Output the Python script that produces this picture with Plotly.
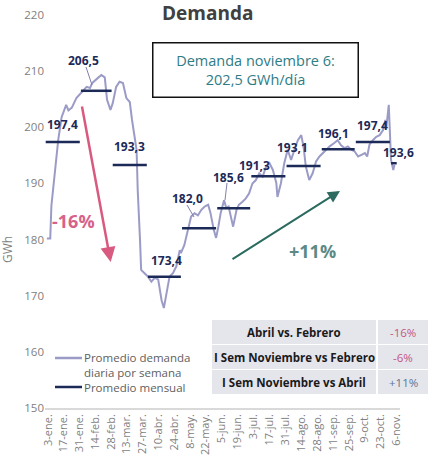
import plotly.graph_objects as go

# weekly-average daily demand (GWh)
dates = [
    "2022-01-02", "2022-01-05", "2022-01-06", "2022-01-09", "2022-01-12", "2022-01-15", "2022-01-19", "2022-01-21", "2022-01-24", "2022-01-28",
    "2022-02-01", "2022-02-06", "2022-02-09", "2022-02-11", "2022-02-16", "2022-02-19", "2022-02-22", "2022-02-24", "2022-02-27",
    "2022-03-01", "2022-03-04", "2022-03-07", "2022-03-10", "2022-03-13", "2022-03-16", "2022-03-18", "2022-03-22", "2022-03-23", "2022-03-25", "2022-03-26", "2022-03-29",
    "2022-04-01", "2022-04-04", "2022-04-07", "2022-04-10", "2022-04-13", "2022-04-15", "2022-04-17", "2022-04-20", "2022-04-23", "2022-04-26", "2022-04-29", "2022-04-30",
    "2022-05-03", "2022-05-06", "2022-05-09", "2022-05-12", "2022-05-15", "2022-05-18", "2022-05-21", "2022-05-24", "2022-05-26", "2022-05-29", "2022-05-31",
    "2022-06-02", "2022-06-04", "2022-06-07", "2022-06-09", "2022-06-11", "2022-06-14", "2022-06-15", "2022-06-18", "2022-06-20", "2022-06-23", "2022-06-26", "2022-06-29",
    "2022-07-02", "2022-07-05", "2022-07-08", "2022-07-11", "2022-07-14", "2022-07-17", "2022-07-20", "2022-07-23", "2022-07-24", "2022-07-27", "2022-07-30",
    "2022-08-02", "2022-08-05", "2022-08-08", "2022-08-11", "2022-08-14", "2022-08-16", "2022-08-18", "2022-08-21", "2022-08-24", "2022-08-27", "2022-08-30",
    "2022-09-02", "2022-09-05", "2022-09-08", "2022-09-12", "2022-09-15", "2022-09-18", "2022-09-21", "2022-09-24", "2022-09-27", "2022-09-30",
    "2022-10-03", "2022-10-06", "2022-10-09", "2022-10-11", "2022-10-13", "2022-10-16", "2022-10-19", "2022-10-22", "2022-10-25", "2022-10-27", "2022-10-28", "2022-10-30", "2022-10-31",
    "2022-11-01", "2022-11-03", "2022-11-04",
]
demanda = [
    180.2, 180.2, 186.0, 191.9, 197.7, 201.8, 204.0, 203.0, 203.5, 205.2,
    206.1, 207.2, 207.0, 207.9, 208.8, 209.3, 208.9, 204.9, 203.1,
    204.3, 207.2, 208.1, 207.9, 205.2, 204.5, 201.3, 196.0, 188.8, 180.0, 174.6, 174.0,
    173.4, 172.5, 173.2, 172.9, 169.2, 167.8, 169.8, 173.4, 174.0, 175.2, 178.1, 177.6,
    179.0, 181.7, 184.1, 184.7, 184.3, 185.3, 185.9, 186.2, 184.8, 181.7, 180.3,
    182.3, 184.7, 187.0, 185.6, 185.9, 183.5, 182.3, 185.3, 186.2, 186.7, 187.3, 188.2,
    190.0, 190.6, 191.8, 191.2, 193.0, 193.6, 192.4, 190.1, 187.6, 190.0, 193.6,
    196.0, 194.2, 196.0, 197.7, 198.6, 196.5, 193.0, 190.6, 191.8, 193.9, 194.8,
    195.4, 196.0, 196.6, 197.2, 197.7, 196.8, 196.3, 196.6, 196.0, 195.7,
    194.8, 195.1, 195.4, 194.8, 196.9, 197.7, 198.3, 198.6, 199.5, 201.3, 200.2, 204.0, 198.9,
    194.2, 192.4, 193.3,
]

# monthly means
mes_inicio = ["2022-01-01", "2022-02-01", "2022-03-01", "2022-04-01", "2022-05-01", "2022-06-01",
              "2022-07-01", "2022-08-01", "2022-09-01", "2022-10-01", "2022-11-01"]
mes_fin = ["2022-01-31", "2022-02-28", "2022-03-31", "2022-04-30", "2022-05-31", "2022-06-30",
           "2022-07-31", "2022-08-31", "2022-09-30", "2022-10-31", "2022-11-06"]
mes_prom = [197.4, 206.5, 193.3, 173.4, 182.0, 185.6, 191.3, 193.1, 196.1, 197.4, 193.6]
mes_mid = ["2022-01-16", "2022-02-14", "2022-03-16", "2022-04-15", "2022-05-16", "2022-06-15",
           "2022-07-16", "2022-08-16", "2022-09-15", "2022-10-16", "2022-11-03"]
# label shifts (px)
lab_dx = [0, -12, 0, 3, -12, -5, -14, -11, -4, 0, 5]
lab_dy = [17, 30, 18, 16, 30, 31, 11, 19, 16, 16, 11]

tick_dates = ["2022-01-03", "2022-01-17", "2022-01-31", "2022-02-14", "2022-02-28", "2022-03-13",
              "2022-03-27", "2022-04-10", "2022-04-24", "2022-05-08", "2022-05-22", "2022-06-05",
              "2022-06-19", "2022-07-03", "2022-07-17", "2022-07-31", "2022-08-14", "2022-08-28",
              "2022-09-11", "2022-09-25", "2022-10-09", "2022-10-23", "2022-11-06"]
tick_text = ["3-ene.", "17-ene.", "31-ene.", "14-feb.", "28-feb.", "13-mar.", "27-mar.", "10-abr.",
             "24-abr.", "8-may.", "22-may.", "5-jun.", "19-jun.", "3-jul.", "17-jul.", "31-jul.",
             "14-ago.", "28-ago.", "11-sep.", "25-sep.", "9-oct.", "23-oct.", "6-nov."]

tabla_txt = ["Abril vs. Febrero", "I Sem Noviembre vs Febrero", "I Sem Noviembre vs Abril"]
tabla_val = ["-16%", "-6%", "+11%"]
tabla_col = ["#c4557f", "#c4557f", "#5d7394"]

FONT = "Open Sans"
LINE = "#9b9bc7"
NAVY = "#1c2a58"


def px(x):
    return (x - 45) / 355


def py(y):
    return (408 - y) / 393


def note(x, y, text, size, color, **kw):
    d = dict(x=px(x), y=py(y), xref="paper", yref="paper", text=text, showarrow=False,
             xanchor="center", yanchor="middle", font=dict(family=FONT, size=size, color=color))
    d.update(kw)
    return d


fig = go.Figure()
fig.add_trace(go.Scatter(x=dates, y=demanda, mode="lines", line=dict(color=LINE, width=2),
                         showlegend=False, hoverinfo="skip"))

seg_x, seg_y = [], []
for a, b, v in zip(mes_inicio, mes_fin, mes_prom):
    seg_x += [a, b, None]
    seg_y += [v, v, None]
fig.add_trace(go.Scatter(x=seg_x, y=seg_y, mode="lines", line=dict(color=NAVY, width=2.5),
                         showlegend=False, hoverinfo="skip"))

ann = []
for m, v, dx, dy in zip(mes_mid, mes_prom, lab_dx, lab_dy):
    ann.append(dict(x=m, y=v, xref="x", yref="y", text=f"<b>{v:.1f}</b>".replace(".", ","),
                    showarrow=False, xshift=dx, yshift=dy, xanchor="center", yanchor="middle",
                    font=dict(family=FONT, size=12, color=NAVY)))

ann += [
    note(207, 13, "<b>Demanda</b>", 19, "#404040"),
    note(255, 69.5, "Demanda noviembre 6:<br>202,5 GWh/día", 14.5, "#2e7c86",
         width=200, height=49, bordercolor="#111111", borderwidth=1.5, borderpad=2),
    dict(x=px(110.7), y=py(262), xref="paper", yref="paper", ax=-29, ay=-157, text="",
         showarrow=True, arrowhead=2, arrowsize=1.2, arrowwidth=2.5, arrowcolor="#d95a80"),
    dict(x=px(340), y=py(191), xref="paper", yref="paper", ax=-109, ay=69, text="",
         showarrow=True, arrowhead=2, arrowsize=1.2, arrowwidth=2, arrowcolor="#2b6b60"),
    note(73, 221, "<b>-16%</b>", 18, "#d6628a"),
    note(312, 251, "<b>+11%</b>", 18, "#5b8a86"),
    note(7, 250, "GWh", 12, "#7f7f7f", textangle=-90),
    note(83, 372, "Promedio demanda<br>diaria por semana<br>Promedio mensual", 11.5, "#606060",
         xanchor="left", align="left", borderpad=0),
]

shapes = [
    dict(type="line", xref="paper", yref="paper", x0=px(55), x1=px(82), y0=py(358), y1=py(358),
         line=dict(color=LINE, width=2.5)),
    dict(type="line", xref="paper", yref="paper", x0=px(55), x1=px(82), y0=py(387), y1=py(387),
         line=dict(color=NAVY, width=2.5)),
    # leader lines
    dict(type="line", xref="paper", yref="paper", x0=px(86), x1=px(92), y0=py(67), y1=py(85),
         line=dict(color="#8080b0", width=1)),
    dict(type="line", xref="paper", yref="paper", x0=px(187), x1=px(194), y0=py(205), y1=py(217),
         line=dict(color="#8080b0", width=1)),
    dict(type="line", xref="paper", yref="paper", x0=px(227), x1=px(225), y0=py(183), y1=py(200),
         line=dict(color="#8080b0", width=1)),
]

# comparison table
row_top = [320, 345, 370]
for i, (t, v, c) in enumerate(zip(tabla_txt, tabla_val, tabla_col)):
    y0, y1 = row_top[i], row_top[i] + 24
    shapes.append(dict(type="rect", xref="paper", yref="paper", x0=px(212), x1=px(376),
                       y0=py(y1), y1=py(y0), fillcolor="#e5e5ec", line=dict(width=0)))
    shapes.append(dict(type="rect", xref="paper", yref="paper", x0=px(378), x1=px(428),
                       y0=py(y1), y1=py(y0), fillcolor="#e5e5ec", line=dict(width=0)))
    ann.append(note(294, (y0 + y1) / 2, f"<b>{t}</b>", 11.5, "#1a1a1a"))
    ann.append(note(403, (y0 + y1) / 2, v, 11.5, c))

fig.update_layout(
    width=442, height=465,
    margin=dict(l=45, r=42, t=15, b=57, autoexpand=False),
    plot_bgcolor="white", paper_bgcolor="white",
    annotations=ann, shapes=shapes,
    xaxis=dict(type="date", range=["2021-12-31 09:00", "2022-11-08 21:30"], automargin=False,
               tickvals=tick_dates, ticktext=tick_text, tickangle=-90,
               tickfont=dict(family=FONT, size=11, color="#7f7f7f"),
               showgrid=False, zeroline=False, showline=True, linecolor="#d9d9d9", linewidth=1.5,
               ticks=""),
    yaxis=dict(range=[150, 220], tickvals=[150, 160, 170, 180, 190, 200, 210, 220], automargin=False,
               tickfont=dict(family=FONT, size=11.5, color="#808080"),
               showgrid=False, zeroline=False, showline=False, ticks=""),
)

fig.write_html("out.html", config={"displayModeBar": False},
               post_script="document.body.style.margin = '0';")
